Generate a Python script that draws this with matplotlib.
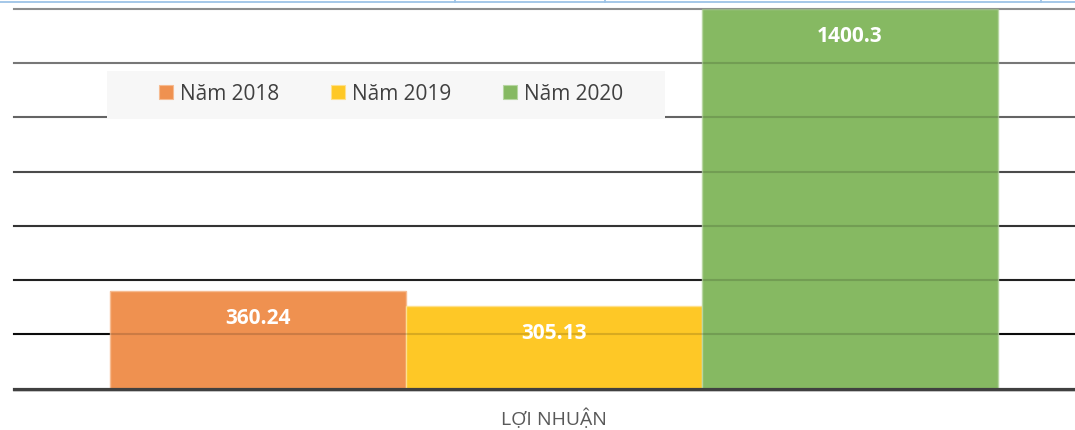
import matplotlib
matplotlib.use("Agg")
import matplotlib.pyplot as plt
from matplotlib.patches import Patch, Rectangle
from matplotlib.lines import Line2D
from matplotlib.transforms import ScaledTranslation

plt.rcParams['font.family'] = ['Open Sans', 'DejaVu Sans']

# data
category = "LỢI NHUẬN"
years = ["Năm 2018", "Năm 2019", "Năm 2020"]
values = [360.24, 305.13, 1400.3]
labels = ["360.24", "305.13", "1400.3"]
grid_values = [200, 400, 600, 800, 1000, 1200, 1400]

colors = ['#ef9150', '#fec826', '#86b962']
edges = ['#f6bb91', '#fee08c', '#b7d6a2']
grid_colors = ['#0d0d0d', '#262626', '#3e3e3e', '#595959', '#767676', '#8c8c8c', '#a6a6a6']

W, H = 1075, 431
fig = plt.figure(figsize=(W / 100, H / 100), dpi=100)
ax = fig.add_axes([14 / W, (H - 389.5) / H, (W - 14) / W, (389.5 - 10) / H])

offsets = [-1, 0, 1]
ax.set_xlim((14 - 554) / 296, (1075 - 554) / 296)
ax.set_ylim(0, 1400)

# gridlines under the bars, plus a faint dark copy on top to tint them inside the bars
for v, c in zip(grid_values, grid_colors):
    ax.axhline(v, color=c, lw=1.5, zorder=0, clip_on=False)
    ax.axhline(v, color='black', lw=1.5, alpha=0.15, zorder=3, clip_on=False)

bars = ax.bar(offsets, values, width=1.0, color=colors, edgecolor=edges,
              linewidth=1.0, zorder=2, clip_on=False)

for b, txt in zip(bars, labels):
    ax.annotate(txt, (b.get_x() + b.get_width() / 2, b.get_height()),
                xytext=(0, -27), textcoords='offset pixels',
                ha='center', va='center', color='white',
                fontsize=15, fontweight='bold', zorder=5)

# baseline with light shadow
ax.axhline(0, color='#404040', lw=2.3, zorder=4, clip_on=False)
shadow = ax.transAxes + ScaledTranslation(0, -2.5 / 100, fig.dpi_scale_trans)
ax.plot([0, 1], [0, 0], transform=shadow, color='#c8c8c8', lw=1.2,
        zorder=1, clip_on=False)

ax.set_xticks([0])
ax.set_xticklabels([category], fontsize=14, color='#595959')
ax.tick_params(axis='x', length=0, pad=14)
ax.set_yticks([])
for s in ax.spines.values():
    s.set_visible(False)

# legend with light background
fig.add_artist(Rectangle((107 / W, 1 - 119 / H), (665 - 107) / W, 47 / H,
                         transform=fig.transFigure, facecolor='#f7f7f7',
                         edgecolor='none', zorder=1))
handles = [Patch(facecolor=c, edgecolor=e, lw=0.8) for c, e in zip(colors, edges)]
leg = fig.legend(handles, years, loc='center', ncol=3, frameon=False,
                 bbox_to_anchor=(391 / W, 1 - 95 / H), fontsize=15,
                 handlelength=0.67, handleheight=0.67, handletextpad=0.34,
                 columnspacing=2.5, labelcolor='#404040')
leg.set_zorder(6)

# blue frame line at the top edge
blue = '#9dc3e6'
fig.add_artist(Line2D([0, 1], [1 - 2.5 / H, 1 - 2.5 / H], transform=fig.transFigure,
                      color=blue, lw=1.3))
for xp in [455, 605, 1041]:
    fig.add_artist(Line2D([xp / W, xp / W], [1 - 2.5 / H, 1], transform=fig.transFigure,
                          color=blue, lw=1.3))

fig.savefig("out.png", dpi=100)
